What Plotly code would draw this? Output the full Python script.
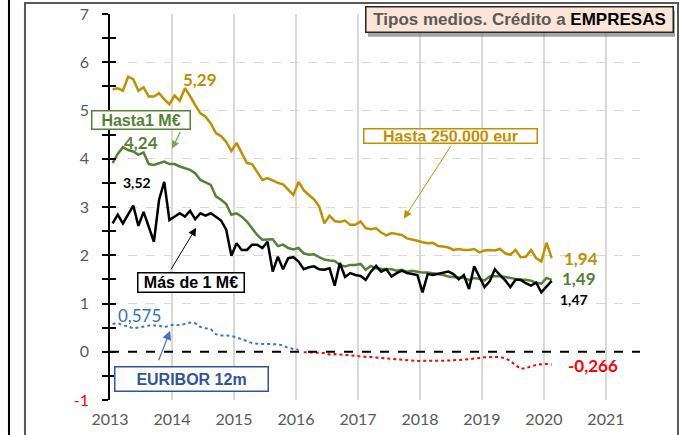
import plotly.graph_objects as go

# ---------------- data (monthly, Jan 2013 - Feb 2020) ----------------
start_year = 2013
hasta_250k = [5.44, 5.46, 5.41, 5.70, 5.65, 5.41, 5.48, 5.29, 5.29, 5.36,
              5.23, 5.13, 5.31, 5.20, 5.46, 5.30, 5.11, 4.94, 4.87, 4.73,
              4.53, 4.47, 4.35, 4.16, 4.33, 4.11, 3.91, 3.89, 3.73, 3.56,
              3.60, 3.55, 3.50, 3.47, 3.37, 3.25, 3.52, 3.35, 3.25, 3.16,
              3.01, 2.66, 2.82, 2.71, 2.69, 2.72, 2.63, 2.63, 2.70, 2.56,
              2.54, 2.56, 2.47, 2.41, 2.46, 2.44, 2.42, 2.35, 2.33, 2.30,
              2.27, 2.25, 2.26, 2.19, 2.18, 2.16, 2.11, 2.13, 2.11, 2.11,
              2.13, 2.06, 2.10, 2.11, 2.10, 2.13, 2.04, 2.01, 2.11, 1.96,
              1.97, 2.11, 1.94, 1.87, 2.26, 1.94]
hasta_1m = [3.91, 4.10, 4.24, 4.18, 4.15, 4.08, 4.13, 3.89, 3.87, 3.91,
            3.94, 3.89, 3.89, 3.84, 3.80, 3.77, 3.70, 3.56, 3.51, 3.46,
            3.22, 3.15, 3.06, 2.84, 2.87, 2.80, 2.70, 2.56, 2.42, 2.32,
            2.33, 2.33, 2.19, 2.22, 2.15, 2.12, 2.15, 2.04, 2.01, 2.02,
            1.96, 1.91, 1.89, 1.88, 1.80, 1.77, 1.80, 1.80, 1.82, 1.70,
            1.78, 1.73, 1.72, 1.71, 1.71, 1.68, 1.70, 1.66, 1.68, 1.66,
            1.64, 1.64, 1.63, 1.61, 1.59, 1.56, 1.55, 1.54, 1.53, 1.49,
            1.53, 1.51, 1.48, 1.56, 1.57, 1.57, 1.55, 1.53, 1.51, 1.49,
            1.49, 1.47, 1.43, 1.41, 1.53, 1.49]
mas_1m = [2.66, 2.84, 2.66, 2.85, 3.03, 2.61, 2.90, 2.59, 2.28, 3.15,
          3.52, 2.73, 2.80, 2.87, 2.80, 2.92, 2.75, 2.87, 2.82, 2.87,
          2.80, 2.72, 2.53, 1.99, 2.25, 2.11, 2.11, 2.22, 2.22, 2.15,
          2.28, 1.66, 1.97, 1.71, 1.94, 1.96, 1.87, 1.71, 1.75, 1.77,
          1.71, 1.70, 1.73, 1.37, 1.84, 1.55, 1.63, 1.59, 1.57, 1.49,
          1.66, 1.78, 1.66, 1.71, 1.56, 1.63, 1.68, 1.63, 1.61, 1.59,
          1.23, 1.61, 1.59, 1.61, 1.64, 1.66, 1.61, 1.50, 1.59, 1.30,
          1.77, 1.57, 1.34, 1.46, 1.71, 1.59, 1.48, 1.34, 1.49, 1.49,
          1.42, 1.37, 1.43, 1.23, 1.34, 1.47]
euribor_12m = [0.575, 0.594, 0.545, 0.528, 0.484, 0.507, 0.525, 0.542, 0.543, 0.541, 0.506, 0.543,
               0.562, 0.549, 0.577, 0.604, 0.592, 0.513, 0.488, 0.469, 0.362, 0.338, 0.335, 0.329,
               0.298, 0.255, 0.212, 0.180, 0.165, 0.163, 0.167, 0.161, 0.154, 0.128, 0.079, 0.059,
               0.042, -0.008, -0.012, -0.010, -0.013, -0.028, -0.056, -0.048, -0.057, -0.069, -0.074, -0.080,
               -0.095, -0.106, -0.110, -0.119, -0.127, -0.149, -0.154, -0.156, -0.168, -0.180, -0.189, -0.190,
               -0.189, -0.191, -0.191, -0.190, -0.188, -0.181, -0.180, -0.169, -0.166, -0.154, -0.147, -0.129,
               -0.116, -0.108, -0.109, -0.112, -0.134, -0.190, -0.283, -0.356, -0.339, -0.304, -0.272, -0.261,
               -0.253, -0.266]
year_ticks = [2013, 2014, 2015, 2016, 2017, 2018, 2019, 2020, 2021]
y_ticks = [-1, 0, 1, 2, 3, 4, 5, 6, 7]

# month positions (mid-month, in fractional years)
months = [start_year + (i + 0.5) / 12 for i in range(len(hasta_250k))]
n_pos = next(i for i, v in enumerate(euribor_12m) if v < 0)  # first negative month

GOLD = "#BF9000"
GREEN = "#548235"
LGREEN = "#70AD47"
BLUE = "#4472C4"
DBLUE = "#2F5597"
GRAY = "#595959"
GRID = "#D9D9D9"
NUMF = "Lato"
BOXF = "Liberation Sans"

fig = go.Figure()
fig.add_trace(go.Scatter(x=months, y=hasta_250k, mode="lines",
                         line=dict(color=GOLD, width=2.5), name="Hasta 250.000 eur"))
fig.add_trace(go.Scatter(x=months, y=hasta_1m, mode="lines",
                         line=dict(color=GREEN, width=2.5), name="Hasta 1 M€"))
fig.add_trace(go.Scatter(x=months, y=mas_1m, mode="lines",
                         line=dict(color="black", width=2.5), name="Más de 1 M€"))
fig.add_trace(go.Scatter(x=months[:n_pos], y=euribor_12m[:n_pos], mode="lines", yaxis="y2",
                         line=dict(color=BLUE, width=2, dash="dot"), name="EURIBOR 12m"))
fig.add_trace(go.Scatter(x=months[n_pos:], y=euribor_12m[n_pos:], mode="lines", yaxis="y2",
                         line=dict(color="#FF0000", width=2, dash="dot"), name="EURIBOR 12m (neg)"))

x_range = [2013, 2021.55]
y_range = [-1, 7]
minor_vals = [v + 0.5 for v in y_ticks[:-1]]
ytext = ["<span style='color:#FF0000'>-1</span>"] + [str(v) for v in y_ticks[1:]]

fig.update_layout(
    width=680, height=435,
    margin=dict(l=110, r=40, t=14, b=35, autoexpand=False),
    paper_bgcolor="white", plot_bgcolor="white",
    showlegend=False,
    font=dict(family=NUMF, size=16, color=GRAY),
    xaxis=dict(range=x_range, tickmode="array", tickvals=year_ticks,
               ticktext=[str(y) for y in year_ticks], automargin=False,
               showgrid=True, gridcolor=GRID, gridwidth=1.5,
               showline=False, zeroline=False, ticks="", ticklabelstandoff=8,
               tickfont=dict(family=NUMF, size=16, color=GRAY)),
    yaxis=dict(range=y_range, tickmode="array", tickvals=y_ticks, ticktext=ytext,
               automargin=False,
               showgrid=True, gridcolor=GRID, gridwidth=1.2, griddash="dash",
               zeroline=False, showline=True, linecolor="black", linewidth=1.5,
               ticks="outside", ticklen=6, tickwidth=1.5, tickcolor="black",
               ticklabelstandoff=10,
               minor=dict(tickvals=minor_vals, ticks="outside", ticklen=6,
                          tickwidth=1.5, tickcolor="black", showgrid=False),
               tickfont=dict(family=NUMF, size=16, color=GRAY)),
    yaxis2=dict(range=y_range, overlaying="y", side="left", anchor="x",
                automargin=False,
                showgrid=False, zeroline=False, showline=False,
                showticklabels=False, tickmode="array", tickvals=y_ticks,
                ticks="inside", ticklen=6, tickwidth=1.5, tickcolor="black",
                minor=dict(tickvals=minor_vals, ticks="inside", ticklen=6,
                           tickwidth=1.5, tickcolor="black", showgrid=False)),
)

shapes = [
    # dashed zero line
    dict(type="line", xref="paper", yref="y", x0=0, x1=1, y0=0, y1=0,
         line=dict(color="black", width=1.8, dash="dash"), layer="above"),
    # outer frames
    dict(type="line", xref="paper", yref="paper", x0=-0.1906, x1=-0.1906, y0=-0.12, y1=1.05,
         line=dict(color="black", width=2)),
    dict(type="rect", xref="paper", yref="paper", x0=-0.1604, x1=1.0717, y0=-0.12, y1=1.0285,
         line=dict(color="#595959", width=2)),
    # title shadow
    dict(type="rect", xref="paper", yref="paper", x0=0.4868, x1=1.066, y0=0.941, y1=1.009,
         line=dict(width=0), fillcolor="rgba(90,90,90,0.55)", layer="above"),
]
fig.update_layout(shapes=shapes)

ann = []
# title box
ann.append(dict(xref="paper", yref="paper", x=0.7717, y=0.9845, xanchor="center", yanchor="middle",
                text="<b>Tipos medios. Crédito a <span style='color:black'>EMPRESAS</span></b>",
                font=dict(family=BOXF, size=17, color=GRAY), showarrow=False,
                bgcolor="#FCE4D6", bordercolor="#262626", borderwidth=1.5, borderpad=1,
                width=304, height=22))
# value labels
def lab(x, y, t, color, size=17, bold=True):
    return dict(x=x, y=y, xref="x", yref="y", text=("<b>%s</b>" % t) if bold else t,
                showarrow=False, font=dict(family=NUMF, size=size, color=color),
                xanchor="center", yanchor="middle")
ann += [
    lab(2014.45, 5.64, "5,29", GOLD),
    lab(2013.5, 4.33, "4,24", GREEN),
    lab(2013.44, 3.50, "3,52", "black", size=14),
    lab(2013.47, 0.75, "0,575", "#2E75B6", size=17, bold=False),
    lab(2020.6, 1.93, "1,94", GOLD),
    lab(2020.56, 1.51, "1,49", GREEN),
    lab(2020.48, 1.08, "1,47", "black", size=14),
    lab(2020.79, -0.29, "-0,266", "#FF0000"),
]
# series boxes
def box(x, y, t, color, w, h, size=16):
    return dict(x=x, y=y, xref="x", yref="y", text="<b>%s</b>" % t, showarrow=False,
                font=dict(family=BOXF, size=size, color=color), bgcolor="white",
                bordercolor=color, borderwidth=1.5, borderpad=1, width=w, height=h,
                xanchor="center", yanchor="middle")
ann += [
    box(2013.5, 4.81, "Hasta1 M€", GREEN, 95, 15),
    box(2018.5, 4.48, "Hasta 250.000 eur", GOLD, 170, 11),
    box(2014.31, 1.43, "Más de 1 M€", "black", 103, 16),
    box(2014.32, -0.56, "EURIBOR 12m", DBLUE, 150, 21),
]
# arrows
def arrow(x, y, ax, ay, color, width=1, size=1.2):
    return dict(x=x, y=y, xref="x", yref="y", ax=ax, ay=ay, text="", showarrow=True,
                arrowhead=2, arrowsize=size, arrowwidth=width, arrowcolor=color)
ann += [
    arrow(2014.0, 4.21, 9, -18, LGREEN, 1.2, 1.3),
    arrow(2017.74, 2.76, 48, -74, GOLD, 1, 1.6),
    arrow(2014.39, 2.57, -26, 43, "black", 1, 1.6),
    arrow(2013.97, 0.435, -12, 31, BLUE, 1.2, 1.5),
]
fig.update_layout(annotations=ann)

fig.write_html("out.html", config={"displayModeBar": False},
               post_script="document.body.style.margin='0px';")
